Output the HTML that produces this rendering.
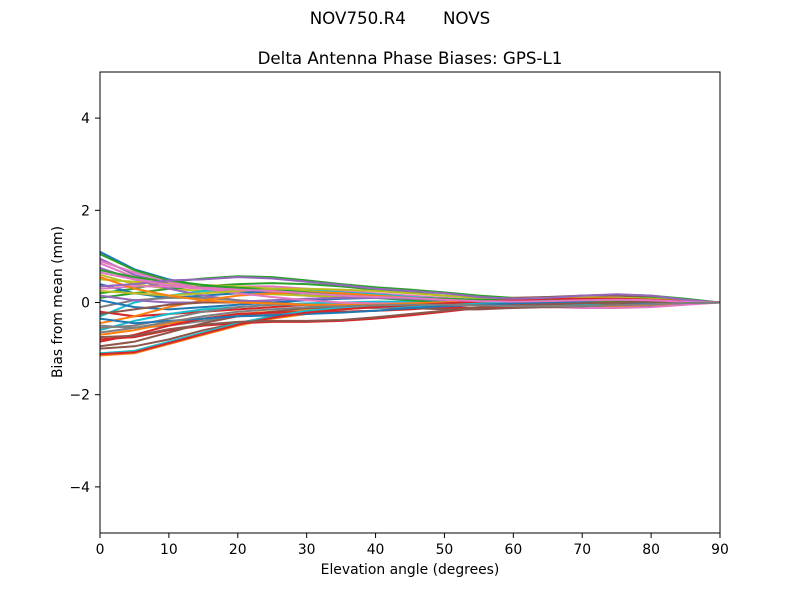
<!DOCTYPE html>
<html><head><meta charset="utf-8"><style>
body{margin:0;background:#fff;font-family:"Liberation Sans","DejaVu Sans",sans-serif}
svg text{font-family:"DejaVu Sans","Liberation Sans",sans-serif}
</style></head><body>
<svg id="chart" width="800" height="600">
<rect width="800" height="600" fill="#fff"/>
<text x="400" y="24" text-anchor="middle" font-size="16.7" style="white-space:pre" xml:space="preserve">NOV750.R4       NOVS</text>
<text x="410" y="64" text-anchor="middle" font-size="16.7">Delta Antenna Phase Biases: GPS-L1</text>
<g id="lines"></g>
<rect x="100" y="72" width="620" height="461" fill="none" stroke="#000" stroke-width="1"/>
<g id="axes"></g>
<text x="410" y="574" text-anchor="middle" font-size="13.9">Elevation angle (degrees)</text>
<text transform="translate(62,302) rotate(-90)" text-anchor="middle" font-size="13.9">Bias from mean (mm)</text>
</svg>
<script>
const elevations=[0,5,10,15,20,25,30,35,40,45,50,55,60,65,70,75,80,85,90];
const xTicks=[0,10,20,30,40,50,60,70,80,90];
const yTicks=[-4,-2,0,2,4];
const yTickLabels=["\u22124","\u22122","0","2","4"];
const colors=["#1f77b4","#ff7f0e","#2ca02c","#d62728","#9467bd","#8c564b","#e377c2","#7f7f7f","#bcbd22","#17becf"];
const s1=[1.1,0.72,0.5,0.35,0.25,0.2,0.15,0.12,0.1,0.08,0.05,0.05,0.05,0.05,0.05,0.05,0.03,0.02,0];
const s2=[-1.15,-1.1,-0.9,-0.7,-0.5,-0.35,-0.25,-0.15,-0.1,-0.05,0,0.05,0.05,0.1,0.1,0.1,0.08,0.05,0];
const s3=[0.2,0.3,0.45,0.52,0.57,0.55,0.48,0.4,0.33,0.28,0.22,0.15,0.1,0.1,0.15,0.17,0.15,0.08,0];
const s4=[-0.8,-0.75,-0.6,-0.5,-0.45,-0.42,-0.42,-0.4,-0.35,-0.28,-0.2,-0.12,-0.08,-0.05,-0.02,0,0.02,0.02,0];
const s5=[0.95,0.6,0.4,0.3,0.25,0.22,0.2,0.18,0.15,0.12,0.08,0.05,0,-0.05,-0.05,-0.05,-0.03,0,0];
const s6=[-1.0,-0.95,-0.8,-0.6,-0.45,-0.3,-0.2,-0.15,-0.1,-0.05,0,0.05,0.1,0.12,0.15,0.15,0.12,0.05,0];
const s7=[0.85,0.55,0.35,0.3,0.35,0.35,0.3,0.25,0.2,0.15,0.1,0.05,0,-0.05,-0.05,-0.05,-0.05,0,0];
const s8=[-0.5,-0.55,-0.5,-0.4,-0.3,-0.25,-0.22,-0.2,-0.18,-0.12,-0.08,-0.05,-0.05,-0.05,-0.05,-0.03,0,0,0];
const s9=[0.6,0.4,0.3,0.25,0.2,0.18,0.15,0.12,0.1,0.08,0.05,0.02,0,0,0.02,0.05,0.05,0.02,0];
const s10=[-0.3,0,0.15,0.25,0.3,0.3,0.28,0.22,0.18,0.12,0.08,0.05,0.02,0,0,0,0,0,0];
const s11=[0.4,0.2,0.1,0.15,0.2,0.25,0.25,0.2,0.15,0.1,0.05,0,-0.05,-0.08,-0.1,-0.1,-0.08,-0.03,0];
const s12=[-0.7,-0.6,-0.45,-0.35,-0.25,-0.2,-0.15,-0.12,-0.1,-0.08,-0.05,-0.05,-0.08,-0.1,-0.1,-0.08,-0.05,-0.02,0];
const s13=[0.1,0.2,0.3,0.35,0.4,0.42,0.4,0.35,0.28,0.22,0.15,0.1,0.05,0.05,0.08,0.1,0.1,0.05,0];
const s14=[-0.2,-0.3,-0.25,-0.2,-0.15,-0.1,-0.05,-0.05,-0.08,-0.1,-0.12,-0.12,-0.1,-0.08,-0.05,-0.03,-0.02,0,0];
const s15=[0.75,0.5,0.3,0.15,0.05,0,-0.05,-0.05,-0.05,-0.05,-0.02,0,0.02,0.05,0.05,0.05,0.05,0.02,0];
const s16=[-0.95,-0.85,-0.65,-0.45,-0.3,-0.2,-0.12,-0.1,-0.1,-0.08,-0.05,-0.02,0,0.02,0.05,0.05,0.05,0.02,0];
const s17=[0.3,0.35,0.35,0.3,0.28,0.25,0.22,0.2,0.15,0.1,0.05,0,-0.05,-0.1,-0.12,-0.12,-0.1,-0.05,0];
const s18=[-0.1,0.05,0.1,0.1,0.05,0,-0.05,-0.1,-0.12,-0.1,-0.08,-0.05,-0.02,0,0.02,0.02,0.02,0.01,0];
const s19=[0.5,0.45,0.4,0.38,0.35,0.3,0.25,0.2,0.15,0.1,0.05,0.05,0.08,0.1,0.12,0.1,0.08,0.03,0];
const s20=[-0.6,-0.4,-0.25,-0.15,-0.1,-0.05,-0.02,0,0.02,0.02,0,-0.02,-0.05,-0.05,-0.05,-0.05,-0.03,-0.01,0];
const s21=[0.05,-0.1,-0.15,-0.1,-0.05,0,0.05,0.08,0.1,0.1,0.08,0.05,0.02,0,0,0,0,0,0];
const s22=[-0.45,-0.3,-0.1,0.05,0.15,0.2,0.22,0.2,0.15,0.1,0.05,0,-0.05,-0.08,-0.08,-0.05,-0.03,0,0];
const s23=[0.7,0.55,0.45,0.38,0.32,0.28,0.22,0.15,0.1,0.05,0,-0.05,-0.08,-0.1,-0.08,-0.05,-0.02,0,0];
const s24=[-0.85,-0.7,-0.5,-0.35,-0.25,-0.22,-0.2,-0.2,-0.18,-0.15,-0.1,-0.05,0,0.05,0.08,0.08,0.05,0.02,0];
const s25=[0.15,0.05,0,0,0.02,0.05,0.08,0.1,0.1,0.08,0.05,0.05,0.05,0.05,0.05,0.05,0.03,0.01,0];
const s26=[-0.25,-0.15,-0.05,0,0,-0.02,-0.05,-0.08,-0.1,-0.12,-0.15,-0.15,-0.12,-0.1,-0.08,-0.05,-0.03,-0.01,0];
const s27=[0.9,0.65,0.45,0.3,0.2,0.12,0.05,0,-0.02,-0.02,0,0.02,0.05,0.08,0.1,0.1,0.08,0.03,0];
const s28=[-0.55,-0.5,-0.35,-0.2,-0.1,-0.05,-0.05,-0.08,-0.1,-0.1,-0.08,-0.05,-0.02,0.02,0.05,0.05,0.03,0.01,0];
const s29=[0.25,0.2,0.15,0.2,0.25,0.3,0.3,0.28,0.25,0.2,0.15,0.1,0.08,0.08,0.1,0.1,0.08,0.03,0];
const s30=[-1.1,-1.05,-0.85,-0.65,-0.45,-0.3,-0.18,-0.12,-0.1,-0.08,-0.05,-0.02,0,0.02,0.02,0.02,0.02,0.01,0];
const s31=[-0.35,-0.45,-0.4,-0.35,-0.3,-0.28,-0.25,-0.22,-0.18,-0.12,-0.08,-0.05,-0.02,0,0,0,0,0,0];
const s32=[0.55,0.3,0.15,0.05,0,-0.02,-0.05,-0.05,-0.05,-0.02,0,0.02,0.05,0.05,0.05,0.03,0.02,0.01,0];
const s33=[1.05,0.7,0.48,0.38,0.3,0.25,0.2,0.15,0.12,0.1,0.08,0.06,0.05,0.05,0.05,0.04,0.03,0.01,0];
const s34=[-1.12,-1.08,-0.88,-0.68,-0.48,-0.33,-0.22,-0.15,-0.1,-0.06,-0.02,0.02,0.05,0.08,0.08,0.08,0.06,0.03,0];
const s35=[0.35,0.4,0.48,0.5,0.55,0.52,0.45,0.38,0.3,0.25,0.2,0.12,0.08,0.1,0.15,0.18,0.15,0.06,0];
const s36=[-0.75,-0.72,-0.58,-0.48,-0.42,-0.4,-0.4,-0.38,-0.32,-0.25,-0.18,-0.1,-0.06,-0.04,-0.02,0,0.02,0.01,0];
const s37=[0.65,0.5,0.38,0.32,0.28,0.25,0.2,0.15,0.12,0.1,0.06,0.03,0.02,0.03,0.05,0.06,0.05,0.02,0];
const s38=[-0.65,-0.55,-0.42,-0.3,-0.2,-0.15,-0.1,-0.08,-0.06,-0.05,-0.05,-0.06,-0.08,-0.08,-0.08,-0.06,-0.04,-0.01,0];
const series=[s1,s2,s3,s4,s5,s6,s7,s8,s9,s10,s11,s12,s13,s14,s15,s16,s17,s18,s19,s20,s21,s22,s23,s24,s25,s26,s27,s28,s29,s30,s31,s32,s33,s34,s35,s36,s37,s38];

const NS="http://www.w3.org/2000/svg";
const xS=v=>100+v/90*620;
const yS=v=>302.5-v*46.1;
const lines=document.getElementById('lines');
series.forEach((s,i)=>{
  const p=document.createElementNS(NS,'polyline');
  p.setAttribute('points',s.map((v,j)=>xS(elevations[j]).toFixed(1)+','+yS(v).toFixed(1)).join(' '));
  p.setAttribute('fill','none');
  p.setAttribute('stroke',colors[i%10]);
  p.setAttribute('stroke-width','2');
  
  
  lines.appendChild(p);
});
const axes=document.getElementById('axes');
xTicks.forEach(t=>{
  const l=document.createElementNS(NS,'line');
  l.setAttribute('x1',xS(t));l.setAttribute('x2',xS(t));l.setAttribute('y1',533);l.setAttribute('y2',538);l.setAttribute('stroke','#000');
  
  
  axes.appendChild(l);
  const tx=document.createElementNS(NS,'text');
  tx.setAttribute('x',xS(t));tx.setAttribute('y',554);tx.setAttribute('text-anchor','middle');tx.setAttribute('font-size','13.9');
  tx.textContent=t;
  
  
  axes.appendChild(tx);
});
yTicks.forEach((t,i)=>{
  const l=document.createElementNS(NS,'line');
  l.setAttribute('x1',95);l.setAttribute('x2',100);l.setAttribute('y1',yS(t));l.setAttribute('y2',yS(t));l.setAttribute('stroke','#000');
  
  
  axes.appendChild(l);
  const tx=document.createElementNS(NS,'text');
  tx.setAttribute('x',90);tx.setAttribute('y',yS(t)+5);tx.setAttribute('text-anchor','end');tx.setAttribute('font-size','13.9');
  tx.textContent=yTickLabels[i];
  
  
  axes.appendChild(tx);
});
</script>
</body></html>
